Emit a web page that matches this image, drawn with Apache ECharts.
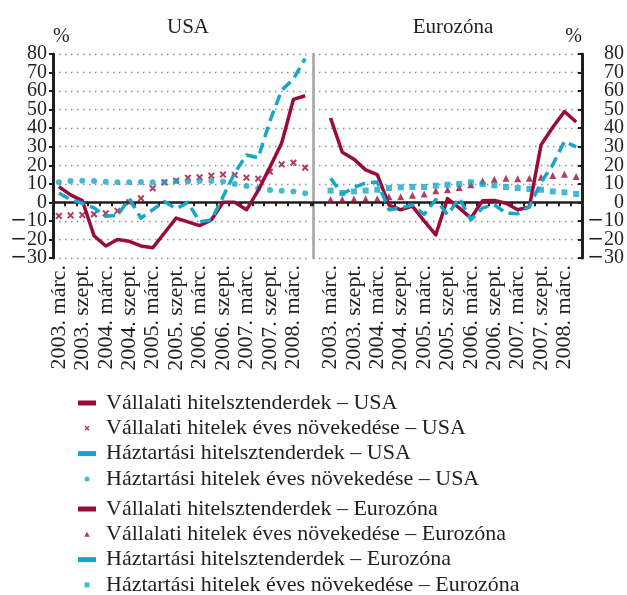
<!DOCTYPE html>
<html>
<head>
<meta charset="utf-8">
<script src="https://cdn.jsdelivr.net/npm/echarts@6/dist/echarts.min.js"></script>
<style>
  html, body { margin: 0; padding: 0; background: #fff; }
  #main { width: 627px; height: 595px; }
</style>
</head>
<body>
<div id="main"></div>
<script>
var quarters = [
  '2003. márc.', '2003. jún.', '2003. szept.', '2003. dec.',
  '2004. márc.', '2004. jún.', '2004. szept.', '2004. dec.',
  '2005. márc.', '2005. jún.', '2005. szept.', '2005. dec.',
  '2006. márc.', '2006. jún.', '2006. szept.', '2006. dec.',
  '2007. márc.', '2007. jún.', '2007. szept.', '2007. dec.',
  '2008. márc.', '2008. jún.'
];

// USA
var usaCorpStd = [8.5, 4, 1, -18, -23.5, -20, -21, -23.5, -24.5, -16.5, -8.5, -10.5, -12.5, -9.5, 0, 0, -4, 6.5, 19, 32, 55.5, 57.5];
var usaCorpGrowth = [-7.3, -7, -6.8, -6.4, -5.9, -4.6, 0, 2.2, 7.6, 10.8, 11.7, 13.3, 13.5, 14.4, 15, 14.8, 13.3, 12.8, 16.5, 20.5, 21.4, 18.7];
var usaHouseStd = [5, 1.5, -0.5, -3, -7.5, -7, 2, -8.5, -4, 0.5, -3.5, 0, -10.5, -9.5, 3, 16, 25.5, 24, 44, 60.5, 66.5, 77.5];
var usaHouseGrowth = [10.8, 11.5, 11.7, 11.5, 11.1, 10.8, 10.8, 11, 10.8, 10.8, 11.5, 11.2, 11.5, 11.5, 11.2, 9.9, 8.8, 7.6, 6.7, 6.3, 5.8, 4.9];

// Eurozóna
var euCorpStd = [45.5, 27, 23.3, 17.5, 15, -1.5, -4, -2, -10, -17.5, 2, -3, -8.5, 0.9, 1, -0.5, -4, -2.5, 31, 40.5, 49, 43.3];
var euCorpGrowth = [1.5, 1.5, 1.8, 2, 2, 3, 3, 3.8, 4.5, 6.3, 6.8, 8, 9.5, 11.5, 12.5, 13, 12.8, 13, 13.5, 14.5, 15.2, 14];
var euHouseStd = [13, 4.5, 8, 10.5, 11, -4, -3, -1.5, -6.5, 1.5, -6.7, 2.3, -9.4, -3, -1.3, -5.8, -6.1, -2.2, 10.8, 20.3, 32.9, 29.9];
var euHouseGrowth = [6.3, 5, 5.9, 6.3, 6.8, 7.7, 8.1, 8.3, 8.3, 9, 9.5, 9.9, 10.8, 9.9, 9.2, 8.3, 7.7, 7.2, 6.8, 5.9, 5.4, 4.5];

var names = [
  'Vállalati hitelsztenderdek – USA',
  'Vállalati hitelek éves növekedése – USA',
  'Háztartási hitelsztenderdek – USA',
  'Háztartási hitelek éves növekedése – USA',
  'Vállalati hitelsztenderdek – Eurozóna',
  'Vállalati hitelek éves növekedése – Eurozóna',
  'Háztartási hitelsztenderdek – Eurozóna',
  'Háztartási hitelek éves növekedése – Eurozóna'
];

var RED = '#9b0b3a';
var CYAN = '#17a6c9';
var TXT = '#231f20';
var FONT = 'Liberation Serif';
var crossSymbol = 'path://M0,2 L2,0 L5,3 L8,0 L10,2 L7,5 L10,8 L8,10 L5,7 L2,10 L0,8 L3,5 Z';
var triSymbol = 'path://M5,0 L10,9 L0,9 Z';
var squareSymbol = 'path://M0,0 L10,0 L10,10 L0,10 Z';

// eurozone axis has an empty slot next to the divider
var euCats = [''].concat(quarters);
function pad(arr) { return ['-'].concat(arr); }

function zeroAxis(grid, cats) {
  return {
    type: 'category', gridIndex: grid, data: cats, position: 'bottom',
    axisLine: { onZero: true, lineStyle: { color: TXT, width: 2.5 } },
    axisTick: { show: true, interval: 0, inside: false, length: 4, lineStyle: { color: TXT, width: 2 } },
    axisLabel: { show: false }, splitLine: { show: false }
  };
}
function labelAxis(grid, cats, odd) {
  return {
    type: 'category', gridIndex: grid, data: cats, position: 'bottom',
    axisLine: { show: false, onZero: false }, axisTick: { show: false },
    splitLine: { show: false },
    axisLabel: {
      rotate: 90, margin: 7, color: TXT, fontFamily: FONT, fontSize: 22,
      interval: function (i) { return (i % 2 === 1) === odd; }
    }
  };
}
var gridLine = { show: true, lineStyle: { color: '#8f8f8f', width: 1.3, type: [1.5, 4.5] } };

function lineSeries(name, x, y, data, color, dashed) {
  return {
    name: name, type: 'line', xAxisIndex: x, yAxisIndex: y, data: data,
    showSymbol: false, symbol: 'none', z: 3,
    lineStyle: { color: color, width: 3.5, type: dashed ? [11, 6] : 'solid', cap: 'butt', join: 'round' },
    itemStyle: { color: color }
  };
}
function dotSeries(name, x, y, data, color, symbol, size) {
  return {
    name: name, type: 'scatter', xAxisIndex: x, yAxisIndex: y, data: data,
    symbol: symbol, symbolSize: size, z: 2, itemStyle: { color: color }
  };
}

var legendBase = {
  orient: 'vertical', left: 78, padding: 0, height: 120,
  itemWidth: 18, itemHeight: 5, itemGap: 3.3,
  selectedMode: false, symbolKeepAspect: true,
  textStyle: { color: TXT, fontFamily: FONT, fontSize: 22, padding: [0, 0, 0, 5] }
};

// the 20px labels are taller than one step, so odd and even decades
// are put on two overlapping axes to keep every label visible
function valueAxis(grid, pos, odd, full) {
  var right = pos === 'right';
  return {
    type: 'value', gridIndex: grid, position: pos, min: -30, max: 80, interval: 10,
    name: full ? '%' : '', nameLocation: 'end', nameGap: 7,
    nameTextStyle: { color: TXT, fontFamily: FONT, fontSize: 20, align: right ? 'right' : 'left' },
    axisLine: { show: full, lineStyle: { color: TXT, width: 3 } },
    axisTick: { show: full, inside: right, length: 4, lineStyle: { color: TXT, width: 2 } },
    axisLabel: {
      color: TXT, fontFamily: FONT, fontSize: 20,
      margin: right ? 42 : 6, align: 'right',
      rich: { m: { fontFamily: 'DejaVu Serif', fontSize: 20, color: TXT } },
      formatter: function (v) {
        if ((Math.abs(v / 10) % 2 === 1) !== odd) return '';
        return v < 0 ? '{m|\u2212}' + Math.abs(v) : String(v);
      }
    },
    splitLine: full ? gridLine : { show: false }
  };
}

var option = {
  animation: false,
  backgroundColor: '#fff',
  textStyle: { fontFamily: FONT },
  title: [
    { text: 'USA', left: 183, top: 12, textAlign: 'center',
      textStyle: { color: TXT, fontFamily: FONT, fontSize: 21, fontWeight: 'normal' } },
    { text: 'Eurozóna', left: 448, top: 12, textAlign: 'center',
      textStyle: { color: TXT, fontFamily: FONT, fontSize: 21, fontWeight: 'normal' } }
  ],
  legend: [
    Object.assign({}, legendBase, {
      top: 392,
      data: [
        { name: names[0], icon: 'rect' },
        { name: names[1], icon: crossSymbol },
        { name: names[2], icon: 'rect' },
        { name: names[3], icon: 'circle' }
      ]
    }),
    Object.assign({}, legendBase, {
      top: 498,
      data: [
        { name: names[4], icon: 'rect' },
        { name: names[5], icon: triSymbol },
        { name: names[6], icon: 'rect' },
        { name: names[7], icon: squareSymbol }
      ]
    })
  ],
  grid: [
    { left: 53, top: 54, width: 258, height: 204 },
    { left: 313, top: 54, width: 270, height: 204 }
  ],
  xAxis: [
    zeroAxis(0, quarters),
    labelAxis(0, quarters, false),
    zeroAxis(1, euCats),
    labelAxis(1, euCats, true)
  ],
  yAxis: [
    valueAxis(0, 'left', true, true),
    valueAxis(1, 'right', true, true),
    {
      type: 'value', gridIndex: 1, position: 'left', min: -30, max: 80, interval: 10,
      axisLine: { show: true, lineStyle: { color: '#a3a3a3', width: 2.5 } },
      axisTick: { show: false }, axisLabel: { show: false }, splitLine: { show: false }
    },
    valueAxis(0, 'left', false, false),
    valueAxis(1, 'right', false, false)
  ],
  series: [
    lineSeries(names[0], 0, 0, usaCorpStd, RED, false),
    dotSeries(names[1], 0, 0, usaCorpGrowth, RED, crossSymbol, 7),
    lineSeries(names[2], 0, 0, usaHouseStd, CYAN, true),
    dotSeries(names[3], 0, 0, usaHouseGrowth, CYAN, 'circle', 6),
    lineSeries(names[4], 2, 1, pad(euCorpStd), RED, false),
    dotSeries(names[5], 2, 1, pad(euCorpGrowth), RED, 'triangle', 7),
    lineSeries(names[6], 2, 1, pad(euHouseStd), CYAN, true),
    dotSeries(names[7], 2, 1, pad(euHouseGrowth), CYAN, 'rect', 6)
  ]
};

var chart = echarts.init(document.getElementById('main'), null, { renderer: 'canvas' });
chart.setOption(option);
</script>
</body>
</html>
